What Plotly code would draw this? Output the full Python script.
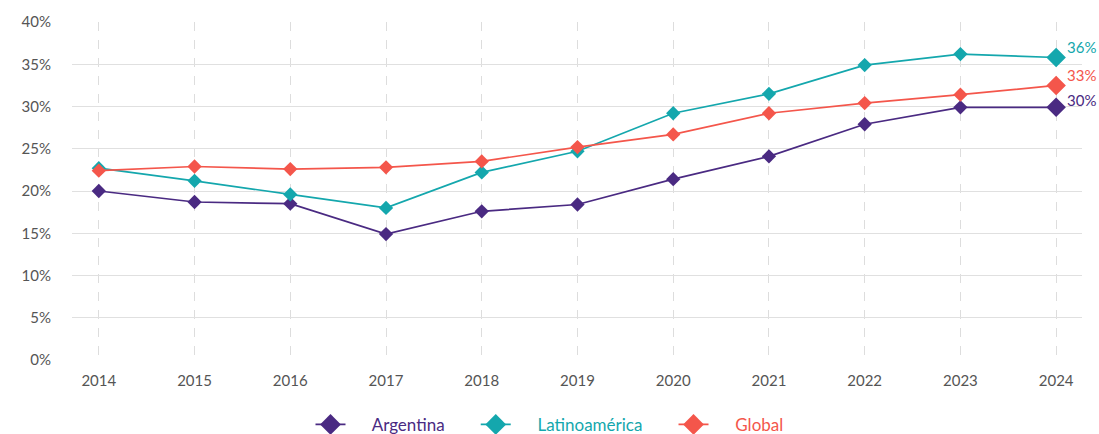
import plotly.graph_objects as go

years = [2014, 2015, 2016, 2017, 2018, 2019, 2020, 2021, 2022, 2023, 2024]
argentina = [20.0, 18.7, 18.5, 14.9, 17.6, 18.4, 21.4, 24.1, 27.9, 29.9, 29.9]
latam = [22.7, 21.2, 19.6, 18.0, 22.2, 24.7, 29.2, 31.5, 34.9, 36.2, 35.8]
global_ = [22.4, 22.9, 22.6, 22.8, 23.5, 25.2, 26.7, 29.2, 30.4, 31.4, 32.5]
names = ["Argentina", "Latinoamérica", "Global"]
colors = ["#4A2A82", "#14A7AD", "#F4564B"]
end_labels = ["30%", "36%", "33%"]
yticks = [0, 5, 10, 15, 20, 25, 30, 35, 40]

font = "Lato, 'Noto Sans', sans-serif"
fig = go.Figure()
series = [argentina, latam, global_]
for name, vals, col in zip(names, series, colors):
    sizes = [11] * (len(vals) - 1) + [15]
    fig.add_trace(go.Scatter(
        x=years, y=vals, mode="lines+markers", showlegend=False,
        line=dict(color=col, width=1.7),
        marker=dict(symbol="diamond", size=sizes, color=col, opacity=1,
                    line=dict(width=0)),
        cliponaxis=False, hoverinfo="skip"))
lead = "\u00a0" * 5
trail = "\u00a0" * 6
for i, (name, col) in enumerate(zip(names, colors)):
    t = trail if i < len(names) - 1 else ""
    fig.add_trace(go.Scatter(
        x=[None], y=[None], mode="lines+markers",
        name=f'<span style="color:{col}">{lead}{name}{t}</span>',
        line=dict(color=col, width=1.7),
        marker=dict(symbol="diamond", size=16, color=col, opacity=1,
                    line=dict(width=0))))

for vals, col, lab in zip(series, colors, end_labels):
    fig.add_annotation(x=years[-1], y=vals[-1], text=lab, showarrow=False,
                       xanchor="left", xshift=9, yshift=10 if lab != "30%" else 7,
                       font=dict(color=col, size=15, family=font))

fig.update_layout(
    width=1099, height=434,
    margin=dict(l=72, r=17, t=20, b=74),
    paper_bgcolor="white", plot_bgcolor="white",
    font=dict(family=font, color="#555555", size=15),
    xaxis=dict(range=[2013.72, 2024.27], tickvals=years, ticktext=[str(y) for y in years],
               showgrid=True, gridcolor="#DDDDDD", griddash="dash", gridwidth=1,
               zeroline=False, showline=False, ticks="", ticklabelstandoff=10),
    yaxis=dict(range=[0, 40], tickvals=yticks, ticktext=[f"{v}%" for v in yticks],
               showgrid=True, gridcolor="#E0E0E0", gridwidth=1.2,
               zeroline=False, showline=False, ticks="", ticklabelstandoff=20),
    legend=dict(orientation="h", x=0.5, xanchor="center", xref="container",
                y=0.021, yanchor="middle", yref="container",
                font=dict(size=17, family=font)),
)
fig.write_html("out.html")
